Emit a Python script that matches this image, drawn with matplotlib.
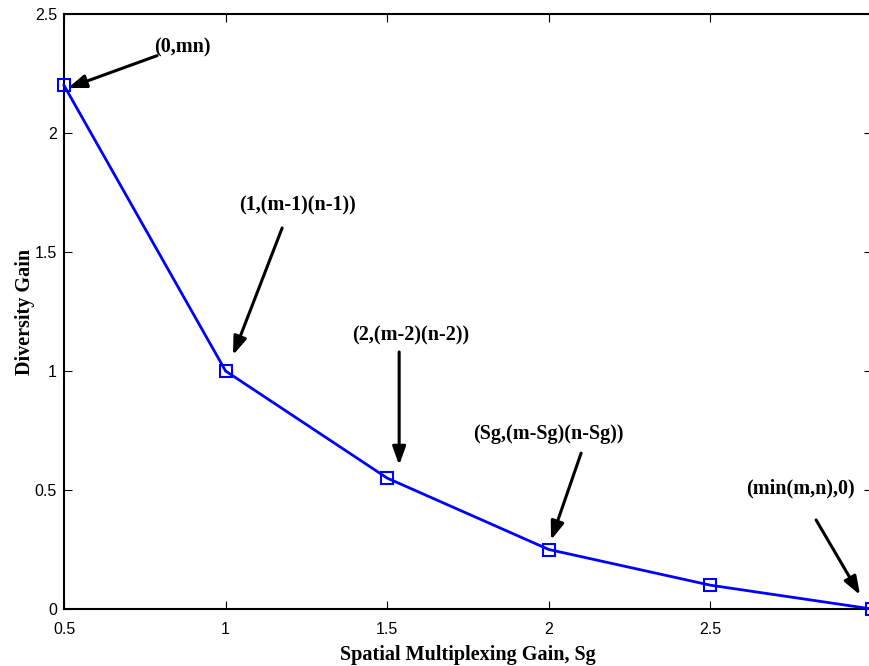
import matplotlib
matplotlib.use('Agg')
import matplotlib.pyplot as plt

# data
sg = [0.5, 1.0, 1.5, 2.0, 2.5, 3.0]
gain = [2.2, 1.0, 0.55, 0.25, 0.1, 0.0]

labels = ['(0,mn)', '(1,(m-1)(n-1))', '(2,(m-2)(n-2))',
          '(Sg,(m-Sg)(n-Sg))', '(min(m,n),0)']
label_xy = [(0.78, 2.36), (1.221, 1.697), (1.574, 1.151),
            (2.0, 0.735), (2.780, 0.508)]
label_ha = ['left', 'center', 'center', 'center', 'center']
arrow_tail = [(0.788, 2.325), (1.175, 1.601), (1.537, 1.080),
              (2.100, 0.655), (2.827, 0.374)]
arrow_head = [(0.512, 2.189), (1.023, 1.067), (1.537, 0.605),
              (2.007, 0.290), (2.963, 0.059)]

SERIF = ['Liberation Serif', 'DejaVu Serif']
SANS = ['Liberation Sans', 'DejaVu Sans']

fig = plt.figure(figsize=(8.69, 6.66), dpi=100)
ax = fig.add_axes([64 / 869, 1 - 609 / 666, 808 / 869, 595 / 666])

ax.plot(sg, gain, '-s', color='#0000ff', lw=2, ms=9, mfc='none',
        mec='#0000ff', mew=1.5, clip_on=False, zorder=5)

for txt, (tx, ty), ha, tail, head in zip(labels, label_xy, label_ha,
                                         arrow_tail, arrow_head):
    ax.text(tx, ty, txt, ha=ha, va='center', fontsize=14.5,
            fontweight='bold', family=SERIF)
    ax.annotate('', xy=head, xytext=tail,
                arrowprops=dict(arrowstyle='-|>,head_length=1.1,head_width=0.4',
                                color='black', lw=2.2, shrinkA=0, shrinkB=0))

ax.set_xlim(0.5, 3.0)
ax.set_ylim(0, 2.5)
ax.set_xticks([0.5, 1, 1.5, 2, 2.5])
ax.set_xticklabels(['0.5', '1', '1.5', '2', '2.5'])
ax.set_yticks([0, 0.5, 1, 1.5, 2, 2.5])
ax.set_yticklabels(['0', '0.5', '1', '1.5', '2', '2.5'])
ax.tick_params(direction='in', length=6, width=0.8, top=True, right=True,
               labelsize=11.5, pad=5)
ax.tick_params(axis='x', pad=9)
for lab in ax.get_xticklabels() + ax.get_yticklabels():
    lab.set_family(SANS)
for s in ax.spines.values():
    s.set_linewidth(1.5)

ax.set_xlabel('Spatial Multiplexing Gain, Sg', fontsize=14.5, fontweight='bold',
              family=SERIF, labelpad=6)
ax.set_ylabel('Diversity Gain', fontsize=14.5, fontweight='bold',
              family=SERIF, labelpad=0)

fig.savefig('out.png', dpi=100, facecolor='white')
